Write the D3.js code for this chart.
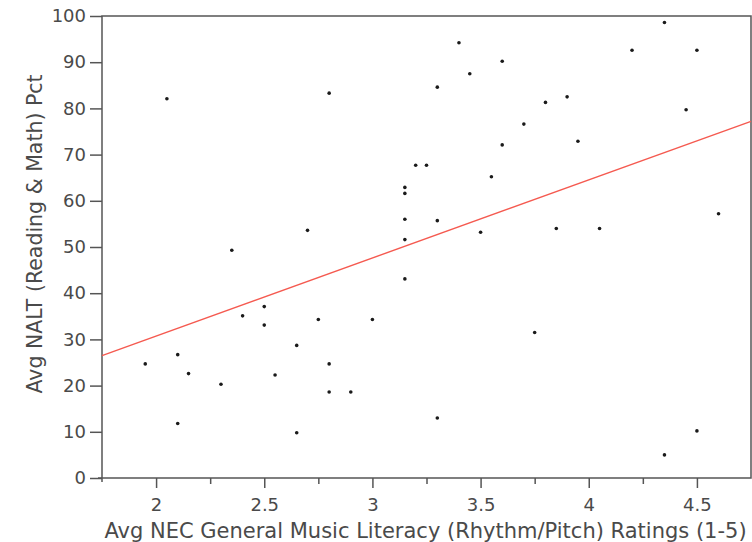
<!DOCTYPE html>
<html>
<head>
<meta charset="utf-8">
<script src="https://cdn.jsdelivr.net/npm/d3@7/dist/d3.min.js"></script>
<style>
  body { margin: 0; background: #fff; }
  text { font-family: "DejaVu Sans", sans-serif; fill: #4a4a4a; }
</style>
</head>
<body>
<div id="chart"></div>
<script>
/* global d3 */

// music literacy rating per school
var musicRating = [2.05, 2.7, 2.35, 3.4, 3.6, 3.45, 3.3, 2.8, 3.6, 3.2,
    3.25, 3.55, 3.15, 3.15, 3.15, 3.3, 3.5, 3.15, 4.35, 4.2,
    4.5, 3.9, 3.8, 4.45, 3.7, 3.95, 3.85, 4.05, 4.6, 2.4,
    2.5, 2.5, 1.95, 2.1, 2.15, 2.3, 2.65, 2.55, 2.1, 2.65,
    3.15, 2.75, 3.0, 2.8, 2.8, 2.9, 3.3, 3.75, 4.5, 4.35];

// NALT percentile per school
var naltPct = [82.1, 53.6, 49.3, 94.2, 90.2, 87.5, 84.6, 83.3, 72.1, 67.7,
    67.7, 65.2, 62.9, 61.6, 56.0, 55.7, 53.2, 51.6, 98.6, 92.6,
    92.6, 82.5, 81.3, 79.7, 76.6, 72.9, 54.0, 54.0, 57.2, 35.1,
    37.1, 33.1, 24.7, 26.7, 22.6, 20.3, 28.7, 22.3, 11.8, 9.8,
    43.1, 34.3, 34.3, 24.7, 18.6, 18.6, 13.0, 31.5, 10.2, 5.0];

// fitted line, read at the two plot edges
var fitX = [1.75, 4.75];
var fitY = [26.5, 77.2];

var xMajorTicks = [2, 2.5, 3, 3.5, 4, 4.5];
var xMinorTicks = [2.25, 2.75, 3.25, 3.75, 4.25];
var yTicks = [0, 10, 20, 30, 40, 50, 60, 70, 80, 90, 100];

var xTitle = "Avg NEC General Music Literacy (Rhythm/Pitch) Ratings (1-5)";
var yTitle = "Avg NALT (Reading & Math) Pct";

var width = 752,
    height = 542,
    margin = { top: 16, right: 1, bottom: 64, left: 102 };

var svg = d3.select("#chart").append("svg")
    .attr("width", width)
    .attr("height", height);

var x = d3.scaleLinear()
    .domain([1.75, 4.75])
    .range([margin.left, width - margin.right]);

var y = d3.scaleLinear()
    .domain([0, 100])
    .range([height - margin.bottom, margin.top]);

var axisColor = "#555";

// frame
svg.append("rect")
    .attr("x", x.range()[0])
    .attr("y", y.range()[1])
    .attr("width", x.range()[1] - x.range()[0])
    .attr("height", y.range()[0] - y.range()[1])
    .attr("fill", "none")
    .attr("stroke", axisColor)
    .attr("stroke-width", 1.5);

// y axis
var yAxis = svg.append("g")
    .attr("transform", "translate(" + x.range()[0] + ",0)")
    .call(d3.axisLeft(y).tickValues(yTicks).tickSize(12).tickPadding(4).tickFormat(d3.format("d")));

yAxis.select(".domain").remove();
yAxis.selectAll(".tick line").attr("stroke", axisColor).attr("stroke-width", 1.5);
yAxis.selectAll(".tick text")
    .style("font-family", "DejaVu Sans, sans-serif")
    .style("font-size", "18px")
    .attr("fill", "#4a4a4a");

// x axis, major ticks
var xAxis = svg.append("g")
    .attr("transform", "translate(0," + y.range()[0] + ")")
    .call(d3.axisBottom(x).tickValues(xMajorTicks).tickSize(10).tickFormat(d3.format("")));

xAxis.select(".domain").remove();
xAxis.selectAll(".tick line").attr("stroke", axisColor).attr("stroke-width", 1.5);
xAxis.selectAll(".tick text")
    .attr("y", 33)
    .attr("dy", null)
    .style("font-family", "DejaVu Sans, sans-serif")
    .style("font-size", "18px")
    .attr("fill", "#4a4a4a");

// x axis, minor ticks
svg.append("g")
    .attr("transform", "translate(0," + y.range()[0] + ")")
    .call(d3.axisBottom(x).tickValues(xMinorTicks).tickSize(6).tickFormat(""))
    .call(function (g) {
        g.select(".domain").remove();
        g.selectAll(".tick line").attr("stroke", axisColor).attr("stroke-width", 1.5);
    });

// small overhang where the two axes meet
svg.append("line")
    .attr("x1", x.range()[0] - 4).attr("x2", x.range()[0])
    .attr("y1", y.range()[0]).attr("y2", y.range()[0])
    .attr("stroke", axisColor).attr("stroke-width", 1.5);
svg.append("line")
    .attr("x1", x.range()[0]).attr("x2", x.range()[0])
    .attr("y1", y.range()[0]).attr("y2", y.range()[0] + 4)
    .attr("stroke", axisColor).attr("stroke-width", 1.5);

// fit line
var fit = d3.line()
    .x(function (d) { return x(d[0]); })
    .y(function (d) { return y(d[1]); });

svg.append("path")
    .datum(d3.zip(fitX, fitY))
    .attr("fill", "none")
    .attr("stroke", "#f55a50")
    .attr("stroke-width", 1.4)
    .attr("d", fit);

// points
svg.append("g")
    .selectAll("circle")
    .data(d3.zip(musicRating, naltPct))
    .enter().append("circle")
    .attr("cx", function (d) { return x(d[0]); })
    .attr("cy", function (d) { return y(d[1]); })
    .attr("r", 1.8)
    .attr("fill", "#1a1a1a");

// titles
svg.append("text")
    .attr("x", (x.range()[0] + x.range()[1]) / 2 - 1)
    .attr("y", 538)
    .attr("text-anchor", "middle")
    .style("font-size", "21px")
    .text(xTitle);

svg.append("text")
    .attr("transform", "translate(42," + ((y.range()[0] + y.range()[1]) / 2 - 13) + ")rotate(-90)")
    .attr("text-anchor", "middle")
    .style("font-size", "20.5px")
    .text(yTitle);
</script>
</body>
</html>
